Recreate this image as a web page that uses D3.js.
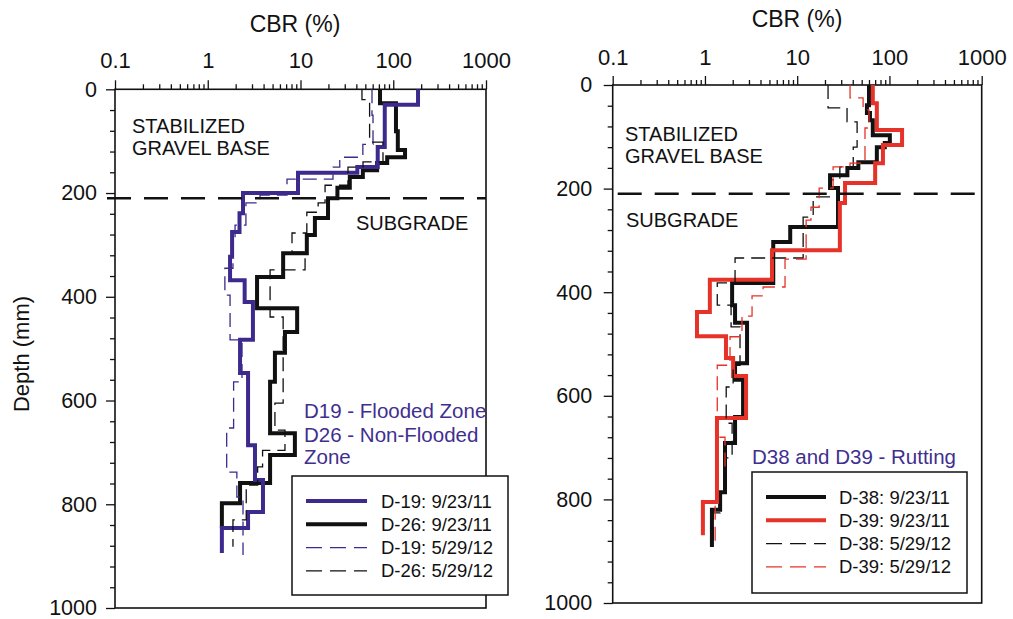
<!DOCTYPE html>
<html>
<head>
<meta charset="utf-8">
<script src="https://cdn.jsdelivr.net/npm/d3@7"></script>
<style>
body{margin:0;background:#fff;}
svg{display:block;font-family:"Liberation Sans",Arial,sans-serif;}
</style>
</head>
<body>
<div id="chart"></div>
<script>
// axis ticks
const cbrMajor = [0.1, 1, 10, 100, 1000];
const cbrLabels = ["0.1", "1", "10", "100", "1000"];
const depthMajor = [0, 200, 400, 600, 800, 1000];
const depthLabels = ["0", "200", "400", "600", "800", "1000"];
const baseDepth = 210; // stabilized base / subgrade interface (mm)

// left panel, DCP profiles: layer boundaries (mm) and CBR of each layer (%)
const d19SepDepth = [0, 30, 111, 150, 161, 200, 239, 275, 323, 368, 410, 483, 547, 686, 753, 815, 846, 894];
const d19SepCbr   = [185, 81, 68, 41, 9.4, 2.4, 2.2, 1.83, 1.74, 2.5, 3.07, 2.23, 2.72, 3.23, 3.94, 2.72, 1.42];
const d26SepDepth = [0, 27, 81, 117, 131, 142, 156, 169, 190, 210, 248, 281, 316, 362, 422, 468, 508, 564, 663, 705, 759, 798, 846];
const d26SepCbr   = [72, 107, 112, 134, 86, 67, 47, 34, 25, 19.8, 14.3, 11.7, 6.5, 3.4, 9.2, 6.8, 5.3, 4.7, 8.7, 4.7, 2.23, 1.42];
const d19MayDepth = [0, 50, 106, 131, 150, 173, 204, 219, 262, 291, 345, 397, 483, 564, 653, 738, 786, 898];
const d19MayCbr   = [59, 60.5, 47, 26.5, 22.4, 7.15, 3.66, 2.58, 1.97, 1.87, 1.53, 1.74, 2.34, 1.9, 1.6, 2.06, 2.4];
const d26MayDepth = [0, 20, 27, 102, 140, 150, 185, 219, 237, 277, 314, 348, 439, 605, 657, 696, 728, 763, 830, 882];
const d26MayCbr   = [46, 50.8, 55.6, 77.5, 47.2, 32.5, 18.4, 15.5, 11.7, 8.1, 11.2, 4.7, 6.5, 5.3, 6.8, 3.9, 3.45, 2.6, 1.87];

// right panel
const d38SepDepth = [0, 39, 54, 68, 97, 112, 120, 149, 160, 174, 199, 274, 303, 382, 425, 459, 537, 569, 641, 691, 786, 820, 892];
const d38SepCbr   = [60, 57, 61.5, 66, 101, 89, 73, 46, 35, 22.7, 27.7, 8.4, 5.5, 1.97, 2.12, 2.86, 2.12, 2.59, 2.12, 1.65, 1.46, 1.19];
const d39SepDepth = [0, 35, 87, 116, 151, 189, 228, 319, 376, 438, 485, 527, 562, 643, 805, 869];
const d39SepCbr   = [66, 73, 137, 85, 70, 33, 29, 5.33, 1.13, 0.82, 1.69, 2.02, 2.79, 1.35, 0.95];
const d38MayDepth = [0, 44, 71, 120, 158, 183, 216, 255, 334, 382, 425, 467, 541, 583, 653, 720, 782, 826, 878];
const d38MayCbr   = [21.6, 34.7, 44.6, 40.5, 29, 22.7, 14.9, 11.6, 2.12, 1.36, 1.92, 2.4, 2.02, 1.7, 1.97, 1.65, 1.46, 1.23];
const d39MayDepth = [0, 25, 48, 83, 151, 158, 199, 236, 261, 336, 390, 407, 446, 486, 541, 680, 737, 801, 884];
const d39MayCbr   = [37.4, 51.8, 60, 54.3, 37.4, 24.5, 17.3, 14.1, 12.5, 7.38, 4.27, 3.24, 2.52, 1.87, 1.36, 1.65, 1.38, 1.29];

const purple = "#3d2a8c", red = "#e6332a", black = "#111";
const dashPat = "14,7";

const svg = d3.select("#chart").append("svg")
  .attr("width", 1013).attr("height", 619);
svg.append("rect").attr("width", 1013).attr("height", 619).attr("fill", "#fff");

const panels = [
  {
    xr: [115, 486], yr: [89.3, 608], cbrTitleX: 295, cbrTitleY: 32, tickPad: 12, yPad: 9, dashStart: -8,
    series: [
      {name: "D-19: 9/23/11", depth: d19SepDepth, cbr: d19SepCbr, color: purple, w: 4, dash: null},
      {name: "D-26: 9/23/11", depth: d26SepDepth, cbr: d26SepCbr, color: black, w: 4, dash: null},
      {name: "D-19: 5/29/12", depth: d19MayDepth, cbr: d19MayCbr, color: purple, w: 1.3, dash: dashPat},
      {name: "D-26: 5/29/12", depth: d26MayDepth, cbr: d26MayCbr, color: black, w: 1.3, dash: dashPat}
    ],
    drawOrder: [1, 0, 2, 3],
    texts: [
      {t: "STABILIZED", x: 132, y: 133},
      {t: "GRAVEL BASE", x: 132, y: 155},
      {t: "SUBGRADE", x: 356, y: 230}
    ],
    notes: [
      {t: "D19 - Flooded Zone", x: 304, y: 418},
      {t: "D26 - Non-Flooded", x: 304, y: 442},
      {t: "Zone", x: 304, y: 464}
    ],
    legend: {x: 292, y: 476, w: 216, h: 119, lineX: 306, lineW: 61, textX: 381, rowY: 501, step: 23.3}
  },
  {
    xr: [612.7, 981.7], yr: [85, 603], cbrTitleX: 797, cbrTitleY: 27, tickPad: 11, yPad: 11.5, dashStart: 5,
    series: [
      {name: "D-38: 9/23/11", depth: d38SepDepth, cbr: d38SepCbr, color: black, w: 4, dash: null},
      {name: "D-39: 9/23/11", depth: d39SepDepth, cbr: d39SepCbr, color: red, w: 4, dash: null},
      {name: "D-38: 5/29/12", depth: d38MayDepth, cbr: d38MayCbr, color: black, w: 1.3, dash: dashPat},
      {name: "D-39: 5/29/12", depth: d39MayDepth, cbr: d39MayCbr, color: red, w: 1.3, dash: dashPat}
    ],
    drawOrder: [0, 1, 2, 3],
    texts: [
      {t: "STABILIZED", x: 625, y: 141},
      {t: "GRAVEL BASE", x: 625, y: 163},
      {t: "SUBGRADE", x: 626, y: 227}
    ],
    notes: [
      {t: "D38 and D39 - Rutting", x: 752, y: 464}
    ],
    legend: {x: 752, y: 472, w: 215, h: 121, lineX: 766, lineW: 60, textX: 839, rowY: 497, step: 23.3}
  }
];

function stepPoints(depth, cbr) {
  var pts = [];
  for (var i = 0; i < cbr.length; i++) {
    pts.push([cbr[i], depth[i]]);
    pts.push([cbr[i], depth[i + 1]]);
  }
  return pts;
}

panels.forEach(function(p) {
  var x = d3.scaleLog().domain([0.1, 1000]).range(p.xr);
  var y = d3.scaleLinear().domain([0, 1000]).range(p.yr);
  var g = svg.append("g");

  // minor ticks
  g.append("g").attr("transform", "translate(0," + p.yr[0] + ")")
    .call(d3.axisTop(x).tickValues(x.ticks().filter(function(v) { return cbrMajor.indexOf(v) < 0; }))
      .tickSize(5).tickSizeOuter(0).tickFormat(""))
    .call(function(a) { a.select(".domain").remove(); });
  g.append("g").attr("transform", "translate(" + p.xr[0] + ",0)")
    .call(d3.axisLeft(y).tickValues(d3.range(0, 1001, 40).filter(function(v) { return v % 200; }))
      .tickSize(5).tickSizeOuter(0).tickFormat(""))
    .call(function(a) { a.select(".domain").remove(); });

  // major ticks with labels
  var xa = g.append("g").attr("transform", "translate(0," + p.yr[0] + ")")
    .call(d3.axisTop(x).tickValues(cbrMajor).tickSize(9).tickSizeOuter(0).tickPadding(p.tickPad)
      .tickFormat(function(d, i) { return cbrLabels[i]; }));
  var ya = g.append("g").attr("transform", "translate(" + p.xr[0] + ",0)")
    .call(d3.axisLeft(y).tickValues(depthMajor).tickSize(9).tickSizeOuter(0).tickPadding(p.yPad)
      .tickFormat(function(d, i) { return depthLabels[i]; }));
  xa.select(".domain").remove();
  ya.select(".domain").remove();
  xa.selectAll("text").attr("font-size", 22).attr("fill", "#111").attr("font-family", null);
  ya.selectAll("text").attr("font-size", 21.5).attr("fill", "#111").attr("font-family", null);
  g.selectAll(".tick line").attr("stroke", "#111").attr("stroke-width", 1.3);

  // frame
  g.append("rect").attr("x", p.xr[0]).attr("y", p.yr[0])
    .attr("width", p.xr[1] - p.xr[0]).attr("height", p.yr[1] - p.yr[0])
    .attr("fill", "none").attr("stroke", "#111").attr("stroke-width", 1.6);

  g.append("text").attr("x", p.cbrTitleX).attr("y", p.cbrTitleY)
    .attr("text-anchor", "middle").attr("font-size", 23).attr("fill", "#111").text("CBR (%)");

  // profiles
  var line = d3.line().x(function(d) { return x(d[0]); }).y(function(d) { return y(d[1]); });
  p.drawOrder.forEach(function(k) {
    var s = p.series[k];
    g.append("path").attr("d", line(stepPoints(s.depth, s.cbr)))
      .attr("fill", "none").attr("stroke", s.color).attr("stroke-width", s.w)
      .attr("stroke-dasharray", s.dash).attr("stroke-linejoin", "miter");
  });

  // base / subgrade interface
  g.append("line").attr("x1", p.xr[0] + p.dashStart).attr("x2", p.xr[1])
    .attr("y1", y(baseDepth)).attr("y2", y(baseDepth))
    .attr("stroke", "#111").attr("stroke-width", 2.6).attr("stroke-dasharray", "24,13");

  p.texts.forEach(function(t) {
    g.append("text").attr("x", t.x).attr("y", t.y).attr("font-size", 20).attr("fill", "#111").text(t.t);
  });
  p.notes.forEach(function(t) {
    g.append("text").attr("x", t.x).attr("y", t.y).attr("font-size", 20.5).attr("fill", "#3f2f8f").text(t.t);
  });

  // legend
  var L = p.legend;
  g.append("rect").attr("x", L.x).attr("y", L.y).attr("width", L.w).attr("height", L.h)
    .attr("fill", "#fff").attr("stroke", "#111").attr("stroke-width", 1.5);
  p.series.forEach(function(s, i) {
    var ly = L.rowY + i * L.step;
    g.append("line").attr("x1", L.lineX).attr("x2", L.lineX + L.lineW).attr("y1", ly).attr("y2", ly)
      .attr("stroke", s.color).attr("stroke-width", s.w).attr("stroke-dasharray", s.dash ? "16,8" : null);
    g.append("text").attr("x", L.textX).attr("y", ly + 6.5).attr("font-size", 18.5).attr("fill", "#111").text(s.name);
  });
});

svg.append("text").attr("transform", "translate(29,354) rotate(-90)")
  .attr("text-anchor", "middle").attr("font-size", 22).attr("fill", "#111").text("Depth (mm)");
</script>
</body>
</html>
